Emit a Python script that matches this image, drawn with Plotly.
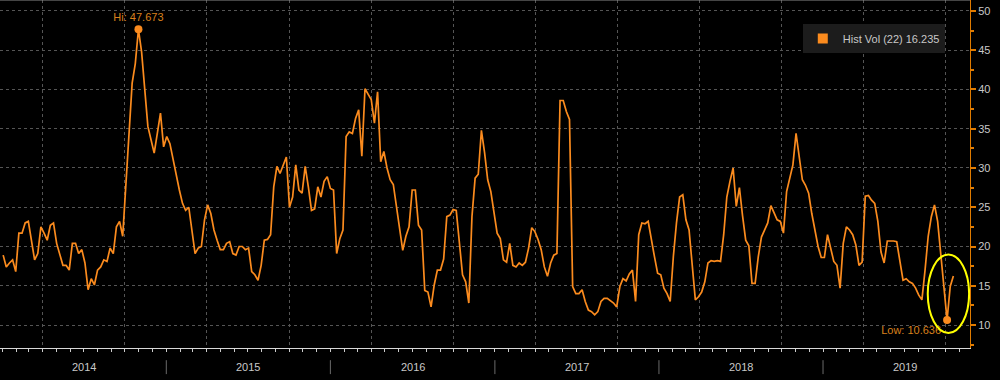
import pandas as pd
import plotly.graph_objects as go

# ---- data (weekly samples) ----
start_date = "2014-01-03"
hist_vol = [
    18.9, 17.4, 17.9, 18.3, 16.8, 21.7, 21.7, 23.0, 23.2, 21.0,
    18.3, 19.1, 22.5, 21.7, 20.8, 22.7, 23.0, 20.4, 18.9, 17.6,
    17.6, 17.0, 20.4, 20.4, 19.1, 19.6, 17.9, 14.5, 15.9, 15.1,
    17.0, 17.4, 18.3, 18.1, 19.8, 19.1, 22.5, 23.2, 21.3, 27.6,
    33.6, 40.8, 43.3, 47.673, 44.8, 39.5, 35.3, 33.6, 31.9, 34.4,
    37.0, 32.7,
    34.0, 33.1, 31.0, 28.9, 27.2, 25.5, 24.6, 25.0, 21.7, 19.1,
    19.8, 20.0, 23.4, 25.3, 24.2, 22.1, 20.8, 19.6, 19.6, 20.4,
    20.6, 19.1, 18.9, 20.0, 20.0, 19.6, 19.8, 16.8, 16.4, 15.7,
    17.6, 20.8, 20.9, 21.5, 27.6, 30.2, 29.3, 30.4, 31.4, 25.0,
    26.3, 30.4, 27.2, 26.8, 30.2, 27.6, 24.6, 24.8, 27.6, 26.3,
    28.3, 28.9,
    27.4, 27.2, 19.1, 21.0, 22.1, 34.0, 34.6, 34.4, 36.3, 37.4,
    31.5, 40.1, 39.3, 38.7, 35.7, 39.7, 30.8, 32.1, 30.0, 28.5,
    27.9, 25.0, 22.1, 19.5, 21.3, 22.5, 27.2, 27.2, 22.7, 22.1,
    14.4, 14.2, 12.3, 15.1, 17.0, 17.0, 18.4, 23.8, 24.0, 24.7,
    24.6, 20.0, 16.4, 15.5, 12.8, 23.8, 28.7, 29.2, 34.8, 32.0,
    28.5, 27.0,
    24.6, 21.7, 21.0, 18.3, 18.0, 20.4, 17.6, 17.4, 17.9, 17.6,
    18.0, 19.8, 22.4, 21.9, 20.9, 19.6, 17.4, 16.2, 17.9, 18.9,
    19.1, 38.6, 38.6, 37.2, 36.2, 14.9, 14.0, 14.0, 14.5, 13.0,
    11.9, 11.7, 11.3, 11.7, 13.0, 13.4, 13.4, 13.1, 12.8, 12.3,
    14.9, 15.9, 15.6, 16.5, 17.0, 13.0, 21.5, 23.0, 22.9, 23.2,
    20.8, 18.7,
    16.6, 16.4, 14.7, 14.0, 13.0, 18.7, 23.0, 26.3, 26.6, 23.4,
    22.1, 17.9, 13.2, 13.6, 14.2, 15.5, 17.9, 18.2, 18.1, 18.2,
    18.1, 21.5, 26.3, 28.3, 30.0, 25.1, 27.5, 23.9, 20.8, 20.1,
    15.3, 15.3, 18.7, 21.2, 22.1, 23.0, 25.2, 24.2, 23.4, 23.2,
    21.7, 27.0, 28.9, 30.4, 34.4, 31.7, 28.5, 27.8, 26.8, 24.2,
    22.3,
    20.0, 18.6, 18.6, 21.5, 19.6, 18.1, 17.6, 14.7, 20.4, 22.5,
    22.1, 21.5, 20.2, 17.6, 18.0, 26.4, 26.5, 25.9, 25.5, 23.2,
    19.3, 17.9, 20.7, 20.7, 20.7, 20.6, 18.3, 15.7, 15.9, 15.5,
    15.3, 14.7, 13.8, 13.2, 17.0, 21.3, 23.8, 25.3, 23.2, 18.7,
    14.5, 10.636, 14.9, 16.235,
]
years = [2014, 2015, 2016, 2017, 2018, 2019]
series_name = "Hist Vol (22)"

dates = pd.date_range(start_date, periods=len(hist_vol), freq="7D")
s = pd.Series(hist_vol, index=dates)
hi_date, hi_val = s.idxmax(), s.max()
lo_date, lo_val = s.idxmin(), s.min()

ORANGE = "#fb8b1e"
LABEL_ORANGE = "#d9801c"
GRID = "#555555"
TXT = "#c8c8c8"
FONT = "Liberation Sans"

fig = go.Figure()
fig.add_trace(go.Scatter(x=dates, y=hist_vol, mode="lines",
                         line=dict(color=ORANGE, width=1.7),
                         showlegend=False, hoverinfo="x+y"))
# hi / low markers
fig.add_trace(go.Scatter(x=[hi_date], y=[hi_val], mode="markers+text",
                         marker=dict(color=ORANGE, size=8),
                         text=[f"Hi: {hi_val:.3f}"], textposition="top center",
                         textfont=dict(color=LABEL_ORANGE, size=11, family=FONT),
                         showlegend=False, cliponaxis=False))
fig.add_trace(go.Scatter(x=[lo_date], y=[lo_val], mode="markers+text",
                         marker=dict(color=ORANGE, size=8),
                         text=[f"Low: {lo_val:.3f}"], textposition="bottom left",
                         textfont=dict(color=LABEL_ORANGE, size=11, family=FONT),
                         showlegend=False, cliponaxis=False))
# legend entry (square swatch)
fig.add_trace(go.Scatter(x=[None], y=[None], mode="markers",
                         marker=dict(color=ORANGE, size=10, symbol="square"),
                         name=f"{series_name} {hist_vol[-1]:.3f}", showlegend=True))

shapes = []
for yr in years[1:]:
    shapes.append(dict(type="line", xref="x", yref="paper",
                       x0=f"{yr}-01-01", x1=f"{yr}-01-01", y0=-0.035, y1=-0.075,
                       line=dict(color="#6a6a6a", width=1)))
shapes.append(dict(type="line", xref="paper", yref="paper", x0=0, x1=1, y0=1, y1=1,
                   line=dict(color="#8a8a8a", width=1)))
# yellow highlight ellipse around the low
shapes.append(dict(type="circle", xref="x", yref="y",
                   x0="2019-08-22", x1="2019-11-22", y0=8.98, y1=18.98,
                   line=dict(color="#ffff00", width=2), layer="above"))

annotations = []
for yr in years:
    annotations.append(dict(x=f"{yr}-07-02", y=-0.055, xref="x", yref="paper",
                            text=str(yr), showarrow=False, yanchor="middle",
                            font=dict(color=TXT, size=11, family=FONT)))

fig.update_layout(
    width=1000, height=380,
    margin=dict(l=0, r=30, t=0, b=32),
    paper_bgcolor="black", plot_bgcolor="black",
    font=dict(family=FONT, color=TXT, size=11),
    showlegend=True,
    legend=dict(x=0.974, xanchor="right", y=0.931, yanchor="top",
                bgcolor="#1c1c1c", borderwidth=0,
                font=dict(color=TXT, size=11, family=FONT),
                itemwidth=30),
    shapes=shapes, annotations=annotations,
    xaxis=dict(range=["2013-12-27", "2019-11-24"], type="date",
               tick0="2014-04-01", dtick="M6", ticks="outside", ticklen=3,
               tickcolor="#cccccc", showticklabels=False,
               showline=True, linecolor="#d8d8d8", linewidth=1,
               showgrid=True, gridcolor=GRID, griddash="dot", gridwidth=1,
               zeroline=False,
               minor=dict(dtick="M1", tick0="2014-01-01", ticks="outside",
                          ticklen=3, tickcolor="#cccccc", showgrid=False)),
    yaxis=dict(side="right", range=[7.07, 51.4], tick0=10, dtick=5,
               ticks="outside", ticklen=5, tickwidth=2, tickcolor="#e07b00",
               showline=True, linecolor="#e07b00", linewidth=1,
               showgrid=True, gridcolor=GRID, griddash="dot", gridwidth=1,
               zeroline=False, tickfont=dict(color=TXT, size=11, family=FONT),
               minor=dict(dtick=2.5, tick0=7.5, ticks="outside", ticklen=3,
                          tickcolor="#e07b00", showgrid=False)),
)

fig.write_html("out.html",
               config={"displayModeBar": False},
               post_script="document.body.style.margin='0px';"
                           "document.body.style.overflow='hidden';")
